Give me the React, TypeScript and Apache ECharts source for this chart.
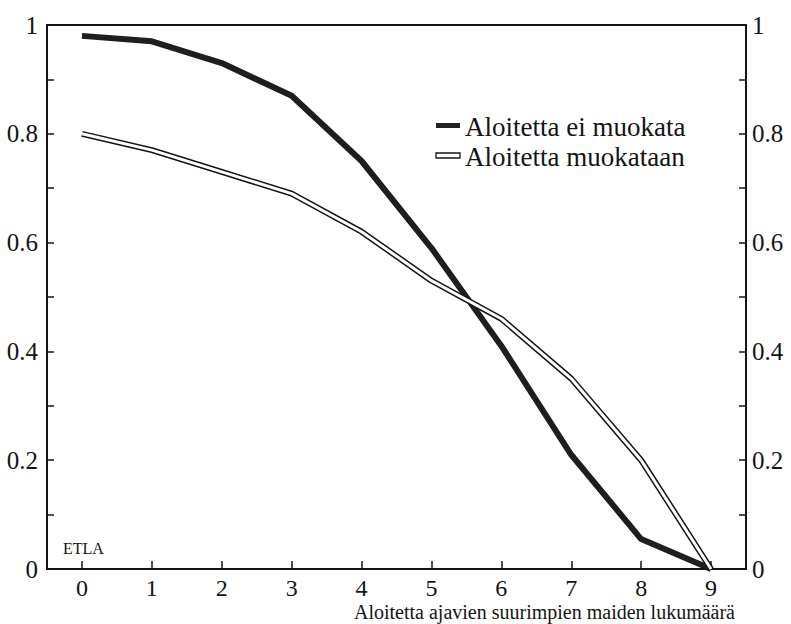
import React, { useEffect, useRef } from "react";
import * as echarts from "echarts";

const categories = ["0", "1", "2", "3", "4", "5", "6", "7", "8", "9"];
const noModifyName = "Aloitetta ei muokata";
const modifyName = "Aloitetta muokataan";
const noModify = [0.98, 0.97, 0.93, 0.87, 0.75, 0.59, 0.41, 0.21, 0.055, 0];
const modify = [0.8, 0.77, 0.73, 0.69, 0.62, 0.53, 0.46, 0.35, 0.2, 0];
const xAxisTitle = "Aloitetta ajavien suurimpien maiden lukumäärä";
const sourceLabel = "ETLA";

const FONT = "Liberation Serif";
const INK = "#141414";

function fmtY(v: number): string {
  const r = Math.round(v * 10);
  if (r % 2 !== 0) return "";
  if (r === 10) return "1";
  if (r === 0) return "0";
  return (r / 10).toFixed(1);
}

export default function App() {
  const ref = useRef<HTMLDivElement>(null);
  useEffect(() => {
    if (!ref.current) return;
    const chart = echarts.init(ref.current, null, { renderer: "svg" });
    const yAxisBase = {
      type: "value",
      min: 0,
      max: 1,
      interval: 0.1,
      splitLine: { show: false },
      axisLine: { show: true, lineStyle: { color: INK, width: 2 } },
      axisTick: { show: true, inside: true, length: 7, lineStyle: { color: INK, width: 1.5 } },
      axisLabel: { fontFamily: FONT, fontSize: 25, color: INK, formatter: fmtY },
    };
    chart.setOption({
      animation: false,
      backgroundColor: "#ffffff",
      textStyle: { fontFamily: FONT },
      grid: {
        left: 47,
        right: 45,
        top: 25,
        bottom: 55,
        show: true,
        borderColor: INK,
        borderWidth: 2,
        backgroundColor: "transparent",
      },
      xAxis: {
        type: "category",
        data: categories,
        boundaryGap: true,
        axisLine: { show: true, lineStyle: { color: INK, width: 2 } },
        axisTick: { show: true, inside: true, alignWithLabel: true, length: 8, lineStyle: { color: INK, width: 1.5 } },
        axisLabel: { fontFamily: FONT, fontSize: 24, color: INK, margin: 7 },
        splitLine: { show: false },
      },
      yAxis: [
        { ...yAxisBase, position: "left", axisLabel: { ...yAxisBase.axisLabel, margin: 9 } },
        { ...yAxisBase, position: "right", axisLabel: { ...yAxisBase.axisLabel, margin: 6 } },
      ],
      series: [
        {
          name: noModifyName,
          type: "line",
          data: noModify,
          symbol: "none",
          lineStyle: { color: "#1e1e1e", width: 6 },
          z: 2,
        },
        {
          name: modifyName,
          type: "line",
          data: modify,
          symbol: "none",
          lineStyle: { color: INK, width: 6 },
          z: 3,
        },
        {
          name: modifyName + " ",
          type: "line",
          data: modify,
          symbol: "none",
          lineStyle: { color: "#ffffff", width: 3 },
          z: 4,
        },
      ],
      graphic: [
        { type: "rect", shape: { x: 436, y: 123, width: 24, height: 5 }, style: { fill: "#222" } },
        {
          type: "text",
          x: 465,
          y: 127,
          style: { text: noModifyName, fontFamily: FONT, fontSize: 27, fill: INK, verticalAlign: "middle" },
        },
        {
          type: "rect",
          shape: { x: 436, y: 153, width: 24, height: 5 },
          style: { fill: "#fff", stroke: INK, lineWidth: 1.3 },
        },
        {
          type: "text",
          x: 465,
          y: 157,
          style: { text: modifyName, fontFamily: FONT, fontSize: 27, fill: INK, verticalAlign: "middle" },
        },
        {
          type: "text",
          x: 63,
          y: 548,
          style: { text: sourceLabel, fontFamily: FONT, fontSize: 16, fill: INK, verticalAlign: "middle" },
        },
        {
          type: "text",
          x: 735,
          y: 612,
          style: { text: xAxisTitle, fontFamily: FONT, fontSize: 20, fill: INK, align: "right", verticalAlign: "middle" },
        },
      ],
    });
    return () => chart.dispose();
  }, []);
  return (
    <div
      ref={ref}
      style={{ position: "absolute", left: 0, top: 0, width: 791, height: 624, background: "#fff" }}
    />
  );
}
